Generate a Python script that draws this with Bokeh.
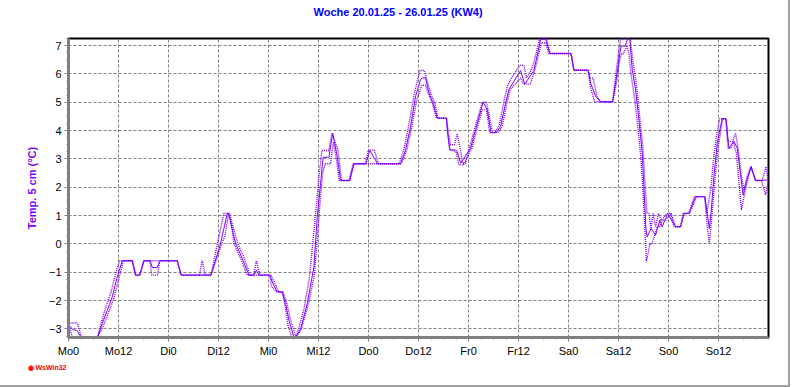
from bokeh.plotting import figure
from bokeh.models import Range1d, FixedTicker, Title
from bokeh.layouts import column
from bokeh.embed import file_html
from bokeh.resources import INLINE

# ---------------- data (hours since Monday 0:00, temperature in °C) ----------------
title_text = "Woche 20.01.25 - 26.01.25 (KW4)"
y_label = "Temp. 5 cm (°C)"
tick_hours = [0, 12, 24, 36, 48, 60, 72, 84, 96, 108, 120, 132, 144, 156]
tick_labels = ["Mo0", "Mo12", "Di0", "Di12", "Mi0", "Mi12", "Do0", "Do12",
               "Fr0", "Fr12", "Sa0", "Sa12", "So0", "So12"]
y_ticks = [-3, -2, -1, 0, 1, 2, 3, 4, 5, 6, 7]

solid_h = [0, 1, 2, 3, 7, 8.1, 9.3, 10.5, 11.7, 12.9, 15.3, 16.1, 17.1, 18.1, 19.6, 20.1, 21.3, 21.9,
           26.1, 27.0, 34.2, 36.5, 38.1, 38.4, 40.1, 41.7, 43.3, 44.5, 45.1, 45.7, 48.3, 48.9, 50.1,
           51.3, 52.1, 52.9, 54.1, 54.9, 55.7, 57.3, 58.9, 59.7, 60.5, 61.1, 62.5, 63.4, 64.5, 65.3,
           67.5, 68.5, 71.4, 72.3, 73.4, 74.2, 79.7, 80.9, 82.1, 83.3, 84.5, 84.9, 85.7, 86.5, 87.5,
           88.5, 90.7, 91.0, 91.5, 92.9, 93.3, 94.1, 96.5, 97.7, 99.5, 100.5, 101.4, 102.7, 103.7,
           104.9, 105.7, 106.9, 108.5, 109.5, 110.5, 111.7, 113.3, 114.5, 115.5, 120.6, 121.3, 124.7,
           125.3, 126.5, 127.7, 130.6, 131.3, 132.1, 132.6, 133.6, 134.2, 134.7, 135.3, 136.1, 136.9,
           137.7, 138.1, 138.6, 138.9, 139.8, 140.9, 141.9, 142.5, 143.8, 144.9, 145.7, 146.9, 147.7,
           148.9, 150.5, 152.7, 153.3, 153.8, 154.2, 154.9, 155.7, 156.5, 156.9, 157.8, 158.5, 159.7,
           160.5, 161.3, 161.9, 162.7, 163.8, 164.9, 166.5, 167.7]
solid_v = [-2.83, -3.02, -3.05, -3.28, -3.28, -2.81, -2.34, -1.87, -1.16, -0.59, -0.59, -1.1, -1.1, -0.59,
           -0.59, -0.83, -0.83, -0.59, -0.59, -1.1, -1.1, 0.02, 1.08, 1.08, 0.02, -0.51, -1.1, -1.1,
           -0.92, -1.1, -1.1, -1.34, -1.69, -1.69, -2.1, -2.69, -3.28, -3.2, -3.0, -2.1, -0.81, 0.96,
           2.14, 3.06, 3.06, 3.91, 3.08, 2.24, 2.24, 2.83, 2.83, 3.30, 3.03, 2.83, 2.83, 3.32, 4.15,
           5.21, 5.80, 5.86, 5.86, 5.33, 4.97, 4.44, 4.44, 3.91, 3.32, 3.32, 3.26, 2.85, 3.38, 4.03,
           5.0, 4.74, 3.93, 3.93, 4.15, 4.97, 5.45, 5.74, 6.12, 5.64, 5.86, 6.12, 7.21, 7.24, 6.72,
           6.72, 6.13, 6.13, 5.68, 5.21, 5.02, 5.02, 5.68, 6.5, 6.98, 6.98, 7.24, 7.24, 6.15, 5.44,
           4.38, 3.2, 2.02, 0.49, 0.25, 0.55, 0.31, 0.84, 0.61, 1.08, 0.79, 0.61, 0.61, 1.08, 1.08,
           1.67, 1.67, 1.08, 0.55, 1.08, 2.38, 3.56, 4.15, 4.42, 4.42, 3.38, 3.62, 3.38, 2.44, 1.73,
           2.2, 2.73, 2.24, 2.24, 2.26]

max_h = [0, 2.1, 3.1, 7, 7.8, 9.0, 10.2, 11.4, 12.3, 15.3, 16.1, 17.1, 18.1, 26.1, 27.0, 31.4, 32.1,
         32.8, 34.2, 36.0, 37.3, 38.6, 40.6, 42.2, 43.6, 44.4, 45.1, 45.9, 48.6, 49.4, 50.4, 51.5,
         52.4, 53.3, 54.6, 55.2, 56.5, 57.8, 58.6, 59.4, 60.2, 60.8, 62.5, 63.2, 64.7, 65.5, 67.3,
         68.3, 71.2, 72.0, 73.4, 74.4, 79.4, 80.6, 81.8, 83.0, 84.3, 85.4, 86.9, 87.9, 88.7, 90.7,
         91.2, 91.7, 92.6, 93.3, 94.1, 94.6, 95.3, 96.2, 97.4, 99.3, 100.3, 101.8, 102.4, 103.4,
         104.6, 105.4, 106.5, 108.3, 109.3, 109.9, 111.0, 111.5, 113.1, 114.7, 115.6, 120.6, 121.3,
         124.7, 125.2, 125.9, 126.8, 127.8, 130.6, 131.2, 132.0, 132.5, 134.8, 135.5, 136.4, 137.0,
         137.8, 138.3, 138.8, 139.3, 139.8, 140.3, 140.9, 141.6, 142.2, 143.8, 144.6, 145.3, 145.7,
         146.9, 147.5, 148.9, 149.8, 150.3, 152.7, 153.2, 154.2, 154.8, 155.5, 156.3, 157.8, 158.2,
         159.4, 160.1, 160.7, 161.4, 162.1, 162.9, 163.8, 164.9, 166.5, 167.4, 167.9]
max_v = [-2.79, -2.79, -3.28, -3.28, -2.81, -2.2, -1.7, -1.0, -0.59, -0.59, -1.1, -1.1, -0.59, -0.59,
         -1.1, -1.1, -0.59, -1.1, -1.1, 0.2, 1.08, 1.08, 0.02, -0.51, -1.1, -1.1, -0.59, -1.1, -1.1,
         -1.34, -1.69, -1.69, -2.1, -2.69, -3.28, -3.0, -2.3, -1.2, 0.0, 1.2, 2.5, 3.3, 3.3, 3.91,
         3.3, 2.24, 2.24, 2.83, 2.83, 3.32, 3.32, 2.83, 2.83, 3.4, 4.3, 5.3, 6.12, 6.12, 5.33, 4.97,
         4.44, 4.44, 3.91, 3.5, 3.5, 3.89, 3.3, 2.85, 2.85, 3.38, 4.03, 5.0, 5.0, 3.93, 3.93, 4.2,
         5.1, 5.6, 5.9, 6.3, 6.3, 5.86, 6.12, 6.3, 7.24, 7.24, 6.72, 6.72, 6.13, 6.13, 5.86, 5.86,
         5.21, 5.02, 5.02, 5.8, 6.72, 7.24, 7.24, 6.4, 5.5, 4.6, 3.5, 2.3, 1.1, 1.08, 0.55, 1.08,
         0.61, 1.08, 0.84, 1.08, 1.08, 0.79, 0.61, 0.61, 1.08, 1.08, 1.5, 1.67, 1.67, 1.08, 2.0, 3.0,
         3.8, 4.42, 4.42, 3.62, 3.62, 3.91, 3.38, 2.5, 1.9, 2.4, 2.73, 2.24, 2.24, 2.73, 2.26]

min_h = [0, 0.9, 7, 8.6, 9.8, 11.0, 12.2, 13.2, 15.3, 16.1, 17.1, 18.1, 19.5, 20.0, 21.4, 21.9, 26.1,
         27.0, 34.2, 36.8, 37.6, 38.4, 38.9, 39.7, 41.3, 42.9, 48.3, 48.7, 49.9, 51.3, 52.0, 52.7,
         53.6, 54.7, 55.9, 57.6, 59.0, 59.6, 60.4, 61.0, 61.6, 62.9, 63.4, 63.6, 64.2, 65.0, 67.5,
         68.5, 79.9, 81.2, 82.4, 83.6, 84.8, 85.7, 86.3, 87.3, 88.3, 90.7, 91.0, 91.5, 93.0, 93.7,
         94.8, 96.8, 98.0, 99.3, 100.3, 101.1, 103.0, 104.1, 105.2, 106.0, 107.2, 108.5, 109.2,
         110.8, 111.9, 113.5, 114.5, 115.3, 120.6, 121.3, 124.7, 125.3, 126.3, 130.6, 131.5, 132.3,
         132.8, 133.2, 134.0, 134.5, 135.0, 135.8, 136.6, 137.4, 137.9, 138.3, 138.7, 139.1, 139.5,
         140.0, 140.6, 141.3, 141.9, 142.5, 143.4, 144.5, 145.3, 146.9, 147.7, 149.1, 150.7, 152.7,
         153.3, 153.8, 154.3, 155.1, 155.9, 156.7, 157.0, 157.8, 158.3, 159.0, 159.5, 160.3, 160.9,
         161.5, 162.2, 162.9, 163.8, 164.9, 166.3, 167.3, 168.0]
min_v = [-2.83, -3.28, -3.28, -2.81, -2.34, -1.87, -1.16, -0.59, -0.59, -1.1, -1.1, -0.59, -0.59, -1.1,
         -1.1, -0.59, -0.59, -1.1, -1.1, 0.02, 0.3, 1.08, 0.9, 0.02, -0.51, -1.1, -1.1, -1.5, -1.69,
         -1.69, -2.2, -2.9, -3.28, -3.28, -3.0, -2.1, -1.1, 0.0, 1.5, 2.5, 2.83, 2.83, 3.4, 3.6, 3.08,
         2.24, 2.24, 2.83, 2.83, 3.32, 4.15, 5.1, 5.6, 5.6, 5.33, 4.97, 4.44, 4.44, 3.91, 3.32, 3.26,
         2.79, 2.79, 3.38, 4.03, 4.74, 4.74, 3.93, 3.93, 4.15, 4.97, 5.45, 5.64, 5.86, 5.64, 5.64,
         6.12, 7.1, 7.1, 6.72, 6.72, 6.13, 6.13, 5.5, 5.02, 5.02, 5.68, 6.5, 6.72, 6.72, 7.0, 6.72,
         6.0, 5.2, 4.2, 3.0, 1.8, 0.6, -0.6, -0.35, 0.0, 0.0, 0.25, 0.61, 0.61, 0.84, 0.84, 1.08,
         0.61, 0.61, 1.08, 1.08, 1.67, 1.67, 0.6, 0.02, 0.8, 2.2, 3.4, 4.15, 4.42, 4.42, 3.38, 3.38,
         3.62, 3.2, 2.2, 1.2, 1.73, 2.2, 2.73, 2.24, 2.24, 1.73, 2.26]

# ---------------- figure ----------------
line_color = "#8000ff"
grid_color = "#808080"

p = figure(width=788, height=385, output_backend="svg", toolbar_location=None,
           x_range=Range1d(0, 168), y_range=Range1d(-3.3, 7.25),
           min_border_left=68, min_border_right=20, min_border_top=38, min_border_bottom=48,
           background_fill_color="white", border_fill_color="white")

# spacer (closest to the frame), then the real title stacked above it
p.add_layout(Title(text=" ", text_font_size="10px", standoff=8, text_color="white"), "above")
p.add_layout(Title(text=title_text, align="left", offset=245, text_color="#0000ff",
                   text_font="Liberation Sans", text_font_size="11px", text_font_style="bold",
                   standoff=0), "above")

# watermark below the chart
p.add_layout(Title(text="\u25c9 WsWin32", align="left", offset=-41, text_color="#ff0000",
                   text_font="Liberation Sans", text_font_size="7px", text_font_style="bold",
                   standoff=4), "below")

p.outline_line_color = "black"
p.outline_line_width = 2

p.line(max_h, max_v, line_color=line_color, line_width=1.4, line_dash="1 1")
p.line(min_h, min_v, line_color=line_color, line_width=1.4, line_dash="1 1")
p.line(solid_h, solid_v, line_color=line_color, line_width=1)

# axes
xa = p.xaxis[0]
xa.ticker = FixedTicker(ticks=tick_hours, minor_ticks=[i * 3 for i in range(57)])
xa.major_label_overrides = {h: lab for h, lab in zip(tick_hours, tick_labels)}
ya = p.yaxis[0]
ya.ticker = FixedTicker(ticks=y_ticks, minor_ticks=[-3.25 + 0.25 * i for i in range(43)])
ya.axis_label = y_label
ya.axis_label_text_color = line_color
ya.axis_label_text_font = "Liberation Sans"
ya.axis_label_text_font_size = "11px"
ya.axis_label_text_font_style = "bold"
ya.axis_label_standoff = 8

for ax in (xa, ya):
    ax.axis_line_color = grid_color
    ax.axis_line_width = 3
    ax.major_tick_line_color = grid_color
    ax.minor_tick_line_color = grid_color
    ax.major_tick_in = 0
    ax.major_tick_out = 4
    ax.minor_tick_in = 0
    ax.minor_tick_out = 2
    ax.major_label_text_font = "Liberation Sans"
    ax.major_label_text_font_size = "11px"
    ax.major_label_text_color = "black"
    ax.major_label_standoff = 3

for g in (p.xgrid[0], p.ygrid[0]):
    g.grid_line_color = grid_color
    g.grid_line_dash = "3 2"
    g.grid_line_width = 1
p.xgrid[0].ticker = FixedTicker(ticks=tick_hours)
p.ygrid[0].ticker = FixedTicker(ticks=y_ticks)

layout = column(p, styles={"border-right": "2px solid #a0a0a0",
                           "border-bottom": "2px solid #a0a0a0"})

open("out.html", "w").write(file_html(layout, INLINE))
